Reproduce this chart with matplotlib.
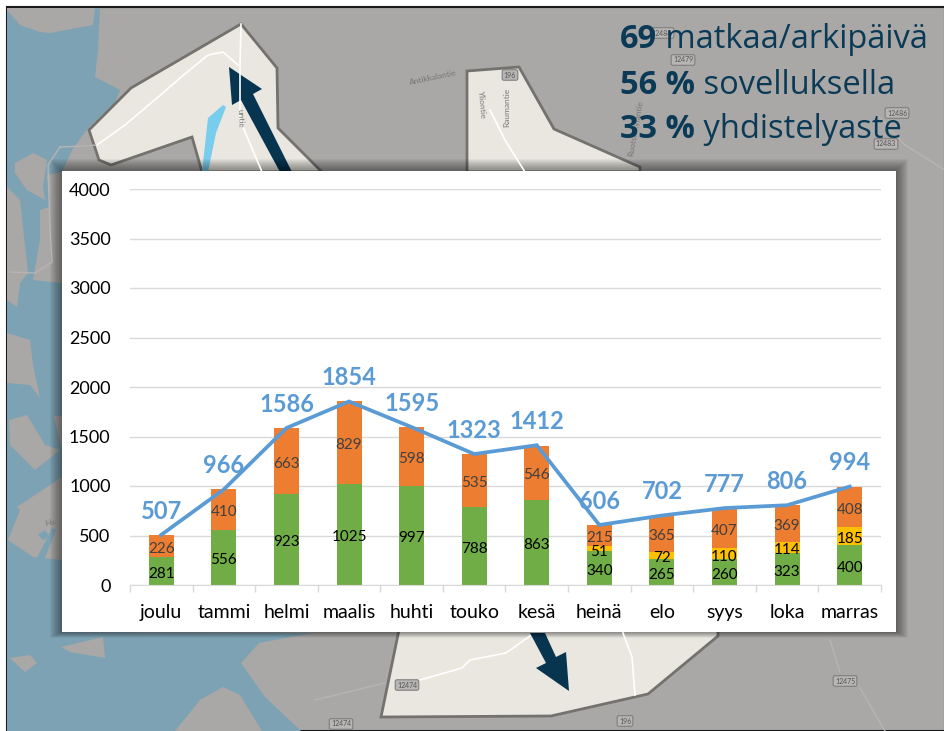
import matplotlib
matplotlib.use('Agg')
import matplotlib.pyplot as plt
from matplotlib.patches import Polygon, Rectangle

plt.rcParams['font.family'] = ['Lato', 'DejaVu Sans']

months = ['joulu', 'tammi', 'helmi', 'maalis', 'huhti', 'touko', 'kesä', 'heinä', 'elo', 'syys', 'loka', 'marras']
green = [281, 556, 923, 1025, 997, 788, 863, 340, 265, 260, 323, 400]
yellow = [0, 0, 0, 0, 0, 0, 0, 51, 72, 110, 114, 185]
orange = [226, 410, 663, 829, 598, 535, 546, 215, 365, 407, 369, 408]
totals = [507, 966, 1586, 1854, 1595, 1323, 1412, 606, 702, 777, 806, 994]
yticks = [0, 500, 1000, 1500, 2000, 2500, 3000, 3500, 4000]

headline_bold = ['69', '56 %', '33 %']
headline_rest = [' matkaa/arkipäivä', ' sovelluksella', ' yhdistelyaste']

# background map, in pixels of the picture
water = [(7, 8), (100, 8), (98, 50), (95, 77), (120, 90), (115, 103), (88, 128), (83, 135), (75, 172), (62, 172), (62, 632),
         (313, 633), (259, 643), (241, 663), (265, 697), (301, 731), (7, 731)]
land = [
    [(7, 8), (95, 8), (93, 25), (50, 33), (40, 32), (20, 25), (7, 10)],
    [(83, 135), (90, 172), (62, 172), (72, 150)],
    [(15, 163), (33, 153), (47, 160), (43, 187), (45, 200), (27, 190), (15, 173)],
    [(7, 187), (20, 200), (23, 227), (28, 273), (20, 283), (17, 307), (7, 300)],
    [(47, 175), (62, 172), (62, 283), (33, 280), (40, 240), (40, 210), (50, 207)],
    [(7, 333), (30, 340), (33, 365), (40, 398), (30, 385), (7, 383)],
    [(9, 420), (27, 415), (45, 445), (60, 450), (35, 470), (10, 445)],
    [(54, 416), (62, 416), (62, 450)],
    [(17, 507), (62, 477), (62, 560), (33, 557), (8, 540), (20, 510)],
    [(61, 647), (103, 637), (105, 658), (70, 652)],
    [(10, 658), (30, 655), (37, 663), (25, 672)],
    [(175, 731), (200, 700), (223, 687), (240, 695), (262, 731)],
]
ponds = [[(38, 535), (45, 530), (50, 537), (43, 540)], [(37, 558), (52, 528), (56, 530), (45, 558)]]
areas = [
    [(241, 24), (277, 68), (278, 128), (322, 172), (202, 172), (192, 137), (111, 165), (99, 160), (89, 130), (131, 88)],
    [(467, 71), (519, 67), (554, 129), (640, 167), (640, 172), (467, 172)],
    [(400, 625), (381, 717), (551, 716), (648, 694), (718, 636), (718, 625)],
]
roads = [
    [(97, 145), (125, 125), (157, 98), (180, 78), (208, 55), (223, 52), (238, 65)],
    [(241, 24), (240, 66), (240, 120), (262, 172)],
    [(490, 110), (505, 140), (525, 172)],
    [(420, 680), (462, 668), (470, 660), (506, 653), (530, 636)],
    [(623, 633), (632, 657), (635, 695)],
]
faint_roads = [
    [(880, 118), (905, 145), (945, 170)],
    [(315, 700), (385, 683)],
    [(830, 640), (840, 672)],
    [(860, 688), (885, 731)],
    [(60, 147), (85, 146), (97, 145)],
    [(60, 147), (48, 165), (50, 230), (52, 262), (35, 273), (10, 272)],
]
lake = [(202, 172), (208, 118), (223, 105), (226, 107), (216, 133), (208, 172)]
road_badges = [('196', 510, 75), ('12479', 683, 60), ('12486', 897, 113), ('12483', 886, 144), ('12486', 662, 33),
               ('12474', 407, 685), ('12474', 341, 724), ('12475', 845, 681), ('196', 625, 721)]
map_labels = [('Antikkalantie', 433, 78, 12), ('Yliontie', 482, 105, -85), ('Raumantie', 507, 107, 90),
              ('untie', 240, 118, -88), ('Ruotsinkyläntie', 636, 128, 80), ('Har', 52, 522, 10)]
arrows = [
    [(280, 172), (241, 100), (232, 105), (229, 67), (262, 89), (253, 94), (292, 172)],
    [(530, 633), (545, 633), (556, 657), (566, 652), (569, 691), (536, 668), (546, 663)],
]

fig = plt.figure(figsize=(9.45, 7.31), dpi=100)

bg = fig.add_axes([0, 0, 1, 1])
bg.set_xlim(0, 945)
bg.set_ylim(731, 0)
bg.axis('off')

bg.add_patch(Rectangle((7, 7), 938, 724, facecolor='#aaa8a6', edgecolor='#1a1a1a', linewidth=1.5))
bg.add_patch(Polygon(water, facecolor='#7da2b3', edgecolor='none'))
for shape in land:
    bg.add_patch(Polygon(shape, facecolor='#aaa8a6', edgecolor='none'))
for shape in ponds:
    bg.add_patch(Polygon(shape, facecolor='#7da2b3', edgecolor='none'))
for road in faint_roads:
    bg.plot([p[0] for p in road], [p[1] for p in road], color='#b6b5b3', lw=1)
for shape in areas:
    bg.add_patch(Polygon(shape, facecolor='#e9e7e0', edgecolor='#74726f', linewidth=2))
bg.add_patch(Polygon(lake, facecolor='#78cdec', edgecolor='none'))
for road in roads:
    bg.plot([p[0] for p in road], [p[1] for p in road], color='white', lw=1.2)
for name, x, y in road_badges:
    bg.text(x, y, name, fontsize=5, color='#555555', ha='center', va='center',
            bbox=dict(boxstyle='round,pad=0.25', fc='#b8b6b4', ec='#777777', lw=0.7))
for name, x, y, angle in map_labels:
    bg.text(x, y, name, fontsize=6, color='#777777', ha='center', va='center', rotation=angle)
for shape in arrows:
    bg.add_patch(Polygon(shape, facecolor='#07344f', edgecolor='none'))

for row, y in enumerate([40, 86, 130]):
    first = bg.text(620, y, headline_bold[row], fontsize=23.5, fontweight='bold', color='#0b3a57',
                    family=['Open Sans', 'DejaVu Sans'], va='center')
    bg.annotate(headline_rest[row], xy=(1, 0.5), xycoords=first, fontsize=23.5, color='#0b3a57',
                family=['Open Sans', 'DejaVu Sans'], va='center')

# shadow and white panel of the chart
for i in range(1, 13):
    bg.add_patch(Rectangle((62 - i, 171 - i), 834 + 2 * i, 461 + i + i // 2, facecolor='black',
                           edgecolor='none', alpha=0.04))
bg.add_patch(Rectangle((62, 171), 834, 461, facecolor='white', edgecolor='none'))

ax = fig.add_axes([130 / 945, 1 - 585 / 731, 751 / 945, 396 / 731])
ax.patch.set_alpha(0)
x = list(range(len(months)))
bottom2 = [g + y for g, y in zip(green, yellow)]

ax.bar(x, green, width=0.4, color='#70ad47', zorder=2)
ax.bar(x, yellow, width=0.4, bottom=green, color='#ffc000', zorder=2)
ax.bar(x, orange, width=0.4, bottom=bottom2, color='#ed7d31', zorder=2)
ax.plot(x, totals, color='#5b9bd5', lw=2.7, zorder=3, solid_joinstyle='miter')

def bar_label(i, value, middle, color):
    ax.annotate(str(value), (i, middle), xytext=(0, -2), textcoords='offset points', fontsize=11,
                color=color, ha='center', va='center', zorder=4)

for i in x:
    bar_label(i, green[i], green[i] / 2, 'black')
    if yellow[i]:
        bar_label(i, yellow[i], green[i] + yellow[i] / 2, 'black')
    bar_label(i, orange[i], bottom2[i] + orange[i] / 2, '#404040')
    ax.annotate(str(totals[i]), (i, totals[i]), xytext=(0, 17), textcoords='offset points', fontsize=17,
                fontweight='bold', color='#5b9bd5', ha='center', va='center', zorder=5)

ax.set_xlim(-0.5, 11.5)
ax.set_ylim(0, 4000)
ax.set_yticks(yticks)
ax.set_xticks(x)
ax.set_xticklabels(months)
ax.set_xticks([i - 0.5 for i in range(13)], minor=True)
ax.grid(axis='y', color='#d9d9d9', lw=1, zorder=1)
ax.tick_params(axis='y', length=0, labelsize=13, pad=14, labelcolor='black')
ax.tick_params(axis='x', which='major', length=0, labelsize=14, pad=13.5, labelcolor='black')
ax.tick_params(axis='x', which='minor', length=5, color='#d9d9d9', width=1)
for side in ['top', 'left', 'right']:
    ax.spines[side].set_visible(False)
ax.spines['bottom'].set_color('#d9d9d9')

fig.savefig('out.png', dpi=100)
